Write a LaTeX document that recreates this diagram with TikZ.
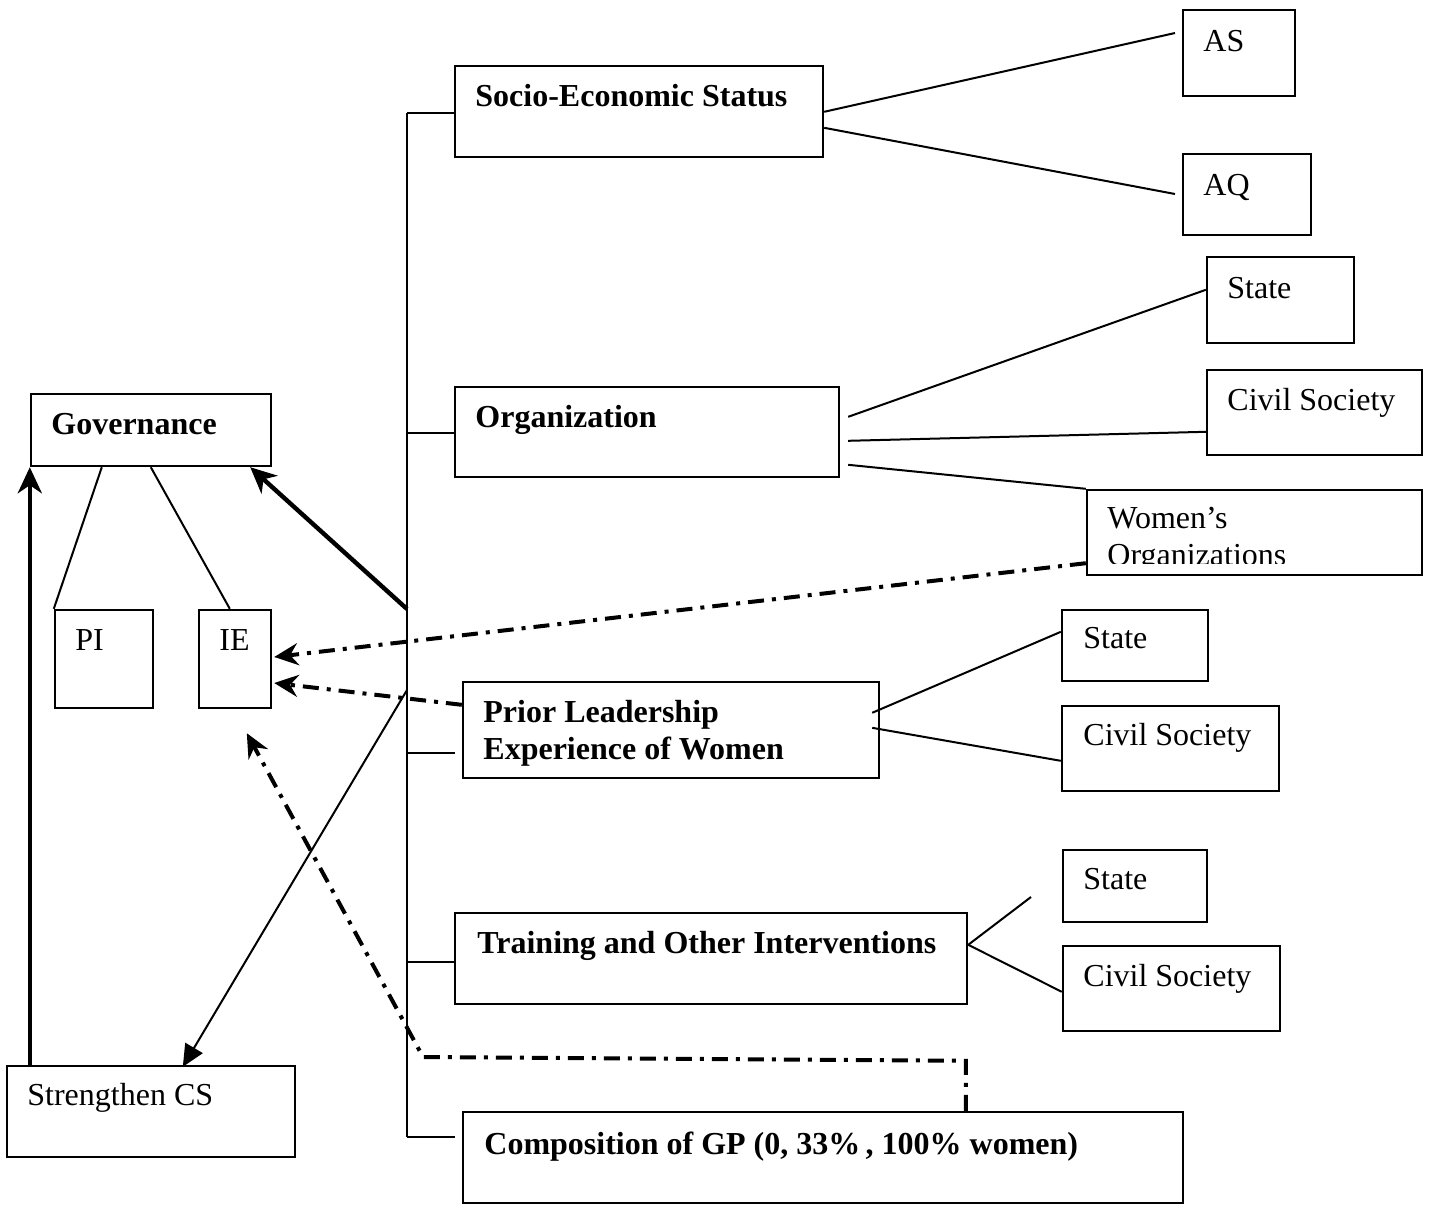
\documentclass[tikz,border=0pt]{standalone}
\usepackage{fontspec}
\setmainfont{Liberation Serif}
\usetikzlibrary{arrows.meta,calc,fit}

\tikzset{
  box/.style={draw, line width=1.2pt, inner sep=0pt},
  txt/.style={anchor=base west, inner sep=0pt, font=\fontsize{16}{18.5}\selectfont},
  btxt/.style={txt, font=\fontsize{16}{18.5}\selectfont\bfseries},
  link/.style={line width=1pt},
  heavy/.style={line width=2.2pt, -{Stealth[length=13pt,width=12pt,inset=4pt]}},
  dashdot/.style={line width=2pt, dash pattern=on 8pt off 4pt on 2pt off 4pt,
                  -{Stealth[length=12pt,width=11pt,inset=4pt]}},
  thinarrow/.style={line width=1pt, -{Triangle[length=11pt,width=10pt]}}
}

\begin{document}
\begin{tikzpicture}[x=0.5pt, y=-0.5pt]
\useasboundingbox (0,0) rectangle (1429,1205);

% ---- boxes ----
\node[box, fit={(31,394)(271,466)}]   (gov) {};
\node[box, fit={(55,610)(153,708)}]   (pi)  {};
\node[box, fit={(199,610)(271,708)}]  (ie)  {};
\node[box, fit={(7,1066)(295,1157)}]  (scs) {};
\node[box, fit={(455,66)(823,157)}]   (ses) {};
\node[box, fit={(455,387)(839,477)}]  (org) {};
\node[box, fit={(463,682)(879,778)}]  (pri) {};
\node[box, fit={(455,913)(967,1004)}] (tra) {};
\node[box, fit={(463,1112)(1183,1203)}] (com) {};
\node[box, fit={(1183,10)(1295,96)}]  (as)  {};
\node[box, fit={(1183,154)(1311,235)}] (aq) {};
\node[box, fit={(1207,257)(1354,343)}] (st1) {};
\node[box, fit={(1207,370)(1422,455)}] (cs1) {};
\node[box, fit={(1087,490)(1422,575)}] (wo)  {};
\node[box, fit={(1062,610)(1208,681)}] (st2) {};
\node[box, fit={(1062,706)(1279,791)}] (cs2) {};
\node[box, fit={(1063,850)(1207,922)}] (st3) {};
\node[box, fit={(1063,946)(1280,1031)}] (cs3) {};

% ---- labels ----
\node[btxt] (tgov) at (51,434)  {Governance};
\node[txt]  (tpi)  at (75,650)  {PI};
\node[txt]  (tie)  at (219,650) {IE};
\node[txt]  (tscs) at (27,1105) {Strengthen CS};
\node[btxt] (tses) at (475,106) {Socio-Economic Status};
\node[btxt] (torg) at (475,427) {Organization};
\node[btxt] (tpr1) at (483,722) {Prior Leadership};
\node[btxt] (tpr2) at (483,759) {Experience of Women};
\node[btxt] (ttra) at (477,953) {Training and Other Interventions};
\node[btxt] (tcom) at (484,1154) {Composition of GP (0, 33\%\,, 100\% women)};
\node[txt]  (tas)  at (1203,51)  {AS};
\node[txt]  (taq)  at (1203,195) {AQ};
\node[txt]  (tst1) at (1227,298) {State};
\node[txt]  (tcs1) at (1227,410) {Civil Society};
\node[txt]  (two1) at (1107,528) {Women’s};
\begin{scope}
  \clip (1087,490) rectangle (1422,563);
  \node[txt] (two2) at (1107,565) {Organizations};
\end{scope}
\node[txt]  (tst2) at (1083,648) {State};
\node[txt]  (tcs2) at (1083,745) {Civil Society};
\node[txt]  (tst3) at (1083,889) {State};
\node[txt]  (tcs3) at (1083,986) {Civil Society};

% ---- central spine and its branches ----
\coordinate (bSes) at (407,113);
\coordinate (bOrg) at (407,433);
\coordinate (jGov) at (407,609);
\coordinate (jCS)  at (407,690);
\coordinate (bPri) at (407,753);
\coordinate (bTra) at (407,962);
\coordinate (bCom) at (407,1137);

\draw[link] (bSes) -- (bCom);
\draw[link] (bSes) -- (ses.west |- bSes);
\draw[link] (bOrg) -- (org.west |- bOrg);
\draw[link] (bPri) -- ++(48,0);
\draw[link] (bTra) -- (tra.west |- bTra);
\draw[link] (bCom) -- ++(48,0);

% ---- Governance and its two parts ----
\draw[link] ($(gov.south west)+(72,0)$) -- (pi.north west);
\draw[link] ($(gov.south west)+(121,0)$) -- ($(ie.north west)+(32,0)$);

% ---- Socio-Economic Status ----
\coordinate (asEnd) at (1175,33);
\coordinate (aqEnd) at (1175,194);
\draw[link] ($(ses.north east)+(0,47)$) -- (asEnd);
\draw[link] ($(ses.north east)+(0,63)$) -- (aqEnd);

% ---- Organization ----
\draw[link] ($(org.north east)+(8,31)$) -- ($(st1.north west)+(0,34)$);
\draw[link] ($(org.north east)+(8,55)$) -- ($(cs1.north west)+(0,63)$);
\draw[link] ($(org.north east)+(8,79)$) -- (wo.north west);

% ---- Prior Leadership ----
\draw[link] ($(pri.north east)+(-8,32)$) -- ($(st2.north west)+(0,23)$);
\draw[link] ($(pri.north east)+(-8,47)$) -- ($(cs2.north west)+(0,56)$);

% ---- Training ----
\coordinate (stEnd) at (1031,897);
\draw[link] ($(tra.north east)+(0,33)$) -- (stEnd);
\draw[link] ($(tra.north east)+(0,33)$) -- ($(cs3.north west)+(0,47)$);

% ---- arrows ----
\draw[heavy] (jGov) -- ($(gov.south east)+(-22,0)$);
\draw[heavy] ($(scs.north west)+(24,0)$) -- (gov.south west -| {$(scs.north west)+(24,0)$});
\draw[thinarrow] (jCS) -- ($(scs.north west)+(177,2)$);

\draw[dashdot] ($(wo.south west)+(0,-13)$) -- ($(ie.east)+(2,-2)$);
\draw[dashdot] ($(pri.north west)+(0,24)$) -- ($(ie.east)+(2,24)$);

\coordinate (cUp)   at ($(com.north west)+(504,-50)$);
\coordinate (cLeft) at (423,1057);
\coordinate (ieTip) at ($(ie.south west)+(49,24)$);
\draw[dashdot] ($(com.north west)+(504,0)$) -- (cUp) -- (cLeft) -- (ieTip);

\end{tikzpicture}
\end{document}
